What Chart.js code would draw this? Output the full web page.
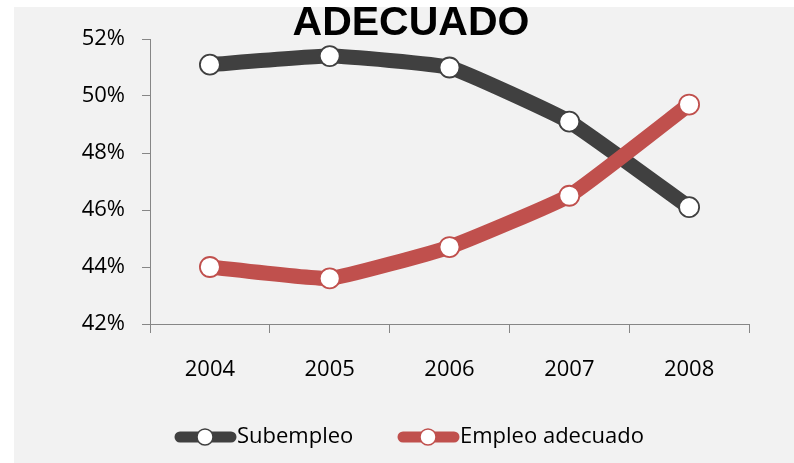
<!DOCTYPE html>
<html>
<head>
<meta charset="utf-8">
<script src="https://cdn.jsdelivr.net/npm/chart.js@4"></script>
<style>
  html, body { margin: 0; padding: 0; background: #ffffff; }
  #wrap { width: 794px; height: 463px; }
</style>
</head>
<body>
<div id="wrap"><canvas id="chart" width="794" height="463"></canvas></div>
<script>
const years = ['2004', '2005', '2006', '2007', '2008'];
const subempleo = [51.1, 51.4, 51.0, 49.1, 46.1];
const empleoAdecuado = [44.0, 43.6, 44.7, 46.5, 49.7];
const seriesNames = ['Subempleo', 'Empleo adecuado'];
const chartTitle = 'ADECUADO';

const DARK = '#404040';
const RED = '#c0504d';
const AXIS = '#868686';
const FONT = '"Open Sans", "DejaVu Sans", sans-serif';

// grey panel behind everything, leaving a thin white margin top/left
const panelBg = {
  id: 'panelBg',
  beforeDraw(chart) {
    const { ctx, width, height } = chart;
    ctx.save();
    ctx.fillStyle = '#ffffff';
    ctx.fillRect(0, 0, width, height);
    ctx.fillStyle = '#f2f2f2';
    ctx.fillRect(14, 7, width - 14, height - 7);
    ctx.restore();
  },
};

const titleText = {
  id: 'titleText',
  afterDraw(chart) {
    const { ctx } = chart;
    ctx.save();
    ctx.fillStyle = '#000000';
    ctx.font = 'bold 41px "Liberation Sans", Arial, sans-serif';
    ctx.textAlign = 'center';
    ctx.textBaseline = 'alphabetic';
    ctx.fillText(chartTitle, 411, 35);
    ctx.restore();
  },
};

// excel-like legend: thick line with a hollow marker in the middle
const lineLegend = {
  id: 'lineLegend',
  afterDraw(chart) {
    const { ctx } = chart;
    const starts = [175, 398];
    const y = 437;
    ctx.save();
    chart.data.datasets.forEach((ds, i) => {
      const x = starts[i];
      ctx.strokeStyle = ds.borderColor;
      ctx.lineWidth = 11;
      ctx.lineCap = 'round';
      ctx.beginPath();
      ctx.moveTo(x + 5, y);
      ctx.lineTo(x + 56, y);
      ctx.stroke();
      ctx.beginPath();
      ctx.arc(x + 30, y, 8, 0, Math.PI * 2);
      ctx.fillStyle = '#ffffff';
      ctx.fill();
      ctx.lineWidth = 1.5;
      ctx.stroke();
      ctx.fillStyle = '#000000';
      ctx.font = '22px ' + FONT;
      ctx.textAlign = 'left';
      ctx.textBaseline = 'middle';
      ctx.fillText(ds.label, x + 62, y);
    });
    ctx.restore();
  },
};

function makeSeries(label, color, data, order) {
  return {
    label,
    data,
    order,
    borderColor: color,
    backgroundColor: color,
    borderWidth: 15,
    tension: 0.12,
    pointRadius: 10,
    pointHoverRadius: 10,
    pointBackgroundColor: '#ffffff',
    pointBorderColor: color,
    pointBorderWidth: 1.8,
  };
}

new Chart(document.getElementById('chart'), {
  type: 'line',
  data: {
    labels: years,
    datasets: [
      makeSeries(seriesNames[0], DARK, subempleo, 1),
      makeSeries(seriesNames[1], RED, empleoAdecuado, 0),
    ],
  },
  options: {
    responsive: false,
    animation: false,
    layout: { padding: { top: 39, right: 45, bottom: 0, left: 0 } },
    plugins: {
      legend: { display: false },
      title: { display: false },
      tooltip: { enabled: false },
    },
    scales: {
      x: {
        offset: true,
        grid: { display: true, drawOnChartArea: false, drawTicks: true, tickLength: 9, color: AXIS, offset: true },
        border: { display: true, color: AXIS, width: 1 },
        ticks: { color: '#000000', font: { family: FONT, size: 22 }, padding: 24 },
        afterFit(scale) { scale.height = 139; },
      },
      y: {
        min: 42,
        max: 52,
        grid: { display: true, drawOnChartArea: false, drawTicks: true, tickLength: 8, color: AXIS },
        border: { display: true, color: AXIS, width: 1 },
        ticks: {
          stepSize: 2,
          color: '#000000',
          font: { family: FONT, size: 22 },
          padding: 17,
          callback: (v) => v + '%',
        },
        afterFit(scale) { scale.width = 150; },
      },
    },
  },
  plugins: [panelBg, titleText, lineLegend],
});
</script>
</body>
</html>
